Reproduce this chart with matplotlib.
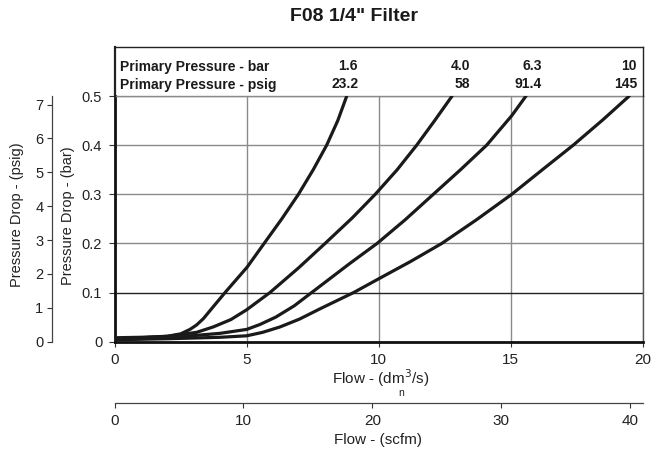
import matplotlib
matplotlib.use("Agg")
import matplotlib.pyplot as plt
from matplotlib.ticker import FuncFormatter

plt.rcParams['font.family'] = ['Liberation Sans', 'DejaVu Sans']

# ---------------- data ----------------
title = 'F08 1/4" Filter'
header_bar_title = "Primary Pressure - bar"
header_psig_title = "Primary Pressure - psig"
pressure_bar = ["1.6", "4.0", "6.3", "10"]
pressure_psig = ["23.2", "58", "91.4", "145"]

flow_16 = [0, 1.0, 2.0, 2.5, 2.85, 3.1, 3.36, 3.73, 4.18, 4.6, 5.02, 5.66, 6.33, 6.96, 7.52,
           8.03, 8.45, 8.79]
drop_16 = [0.008, 0.009, 0.011, 0.016, 0.025, 0.034, 0.047, 0.071, 0.100, 0.126, 0.152, 0.200,
           0.250, 0.300, 0.350, 0.400, 0.450, 0.500]

flow_40 = [0, 1, 2, 3.1, 3.73, 4.4, 5.0, 5.88, 6.96, 7.97, 9.0, 9.87, 10.7, 11.44, 12.12, 12.78]
drop_40 = [0.006, 0.008, 0.011, 0.019, 0.030, 0.045, 0.065, 0.100, 0.150, 0.200,
           0.252, 0.300, 0.350, 0.400, 0.450, 0.500]

flow_63 = [0, 2, 3.99, 5.0, 5.5, 6.1, 6.8, 7.46, 8.9, 9.94, 11.0, 12.07, 13.1, 14.09, 15.04, 15.58]
drop_63 = [0.005, 0.008, 0.017, 0.025, 0.035, 0.050, 0.073, 0.100, 0.159, 0.200,
           0.248, 0.300, 0.350, 0.400, 0.460, 0.500]

flow_10 = [0, 2, 4, 5.0, 5.6, 6.26, 7.0, 7.78, 9.05, 10.0, 11.2, 12.39, 13.7, 15.04,
           16.2, 17.37, 18.5, 19.49]
drop_10 = [0.004, 0.006, 0.009, 0.012, 0.019, 0.030, 0.046, 0.067, 0.100, 0.128, 0.163,
           0.200, 0.248, 0.300, 0.350, 0.400, 0.452, 0.500]

flow_ticks = [0, 5, 10, 15, 20]
bar_ticks = [0, 0.1, 0.2, 0.3, 0.4, 0.5]
psig_ticks = [0, 1, 2, 3, 4, 5, 6, 7]
scfm_ticks = [0, 10, 20, 30, 40]

BAR_TO_PSI = 14.5038

# ---------------- layout ----------------
W, H = 668, 450
def fx(px):
    return px / W
def fy(py):
    return 1 - py / H

L, R, T, B = 114.7, 642.7, 96.0, 341.7
HDR_TOP = 47.0
PT = 72 / 100.0  # points per pixel

fig = plt.figure(figsize=(W / 100, H / 100), dpi=100)

ax = fig.add_axes([fx(L), fy(B), (R - L) / W, (B - T) / H])
ax.set_xlim(0, 20)
ax.set_ylim(0, 0.5)

for fl, dr in [(flow_16, drop_16), (flow_40, drop_40), (flow_63, drop_63), (flow_10, drop_10)]:
    ax.plot(fl, dr, color='#1a1a1a', lw=2.3, solid_joinstyle='round',
            solid_capstyle='round', zorder=3)

ax.set_xticks(flow_ticks)
ax.set_yticks(bar_ticks)
ax.grid(True, color='#8a8a8a', lw=1.0)
for gl, t in zip(ax.yaxis.get_gridlines(), bar_ticks):
    if abs(t - 0.1) < 1e-9:
        gl.set_color('#222222')

ax.xaxis.set_major_formatter(FuncFormatter(lambda v, p: f"{v:g}"))
ax.yaxis.set_major_formatter(FuncFormatter(lambda v, p: "0" if v == 0 else f"{v:.1f}"))

ax.spines['left'].set_linewidth(2.0)
ax.spines['left'].set_color('#111111')
ax.spines['bottom'].set_linewidth(2.0)
ax.spines['bottom'].set_color('#111111')
ax.spines['right'].set_linewidth(1.0)
ax.spines['right'].set_color('#555555')
ax.spines['top'].set_linewidth(1.0)
ax.spines['top'].set_color('#8a8a8a')

ax.tick_params(axis='x', direction='out', length=5 * PT, width=0.8, pad=6 * PT,
               labelsize=11, color='#333333', labelcolor='#222222')
ax.tick_params(axis='y', direction='out', length=6.5 * PT, width=0.8, pad=6 * PT,
               labelsize=10.5, color='#333333', labelcolor='#222222')

# psig axis
axp = ax.twinx()
axp.set_ylim(0, 0.5 * BAR_TO_PSI)
axp.yaxis.set_ticks_position('left')
axp.spines['left'].set_position(('outward', (L - 51.7) * PT))
for s in ['right', 'top', 'bottom']:
    axp.spines[s].set_visible(False)
axp.spines['left'].set_visible(True)
axp.spines['left'].set_linewidth(0.9)
axp.spines['left'].set_color('#444444')
axp.set_yticks(psig_ticks)
axp.tick_params(axis='y', direction='out', length=5 * PT, width=0.8, pad=3.4 * PT,
                labelsize=10.5, color='#333333', labelcolor='#222222')

# scfm axis
axs = ax.twiny()
axs.set_xlim(0, 41.0)
axs.xaxis.set_ticks_position('bottom')
axs.spines['bottom'].set_position(('outward', (402.7 - B) * PT))
for s in ['left', 'right', 'top']:
    axs.spines[s].set_visible(False)
axs.spines['bottom'].set_visible(True)
axs.spines['bottom'].set_linewidth(0.9)
axs.spines['bottom'].set_color('#444444')
axs.set_xticks(scfm_ticks)
axs.tick_params(axis='x', direction='out', length=5 * PT, width=0.8, pad=6 * PT,
                labelsize=11, color='#333333', labelcolor='#222222')

# header box
axh = fig.add_axes([fx(L), fy(T), (R - L) / W, (T - HDR_TOP) / H])
axh.set_xlim(0, 20)
axh.set_ylim(0, 1)
axh.set_xticks([])
axh.set_yticks([])
axh.patch.set_alpha(0)
axh.spines['bottom'].set_visible(False)
for s in ['top', 'left', 'right']:
    axh.spines[s].set_linewidth(1.0)
    axh.spines[s].set_color('#222222')
axh.spines['left'].set_linewidth(1.6)

row1_y = 1 - (70.5 - HDR_TOP) / (T - HDR_TOP)
row2_y = 1 - (88.5 - HDR_TOP) / (T - HDR_TOP)
hdr_right = [9.22, 13.46, 16.19, 19.78]
hfs = 10
axh.text(0.19, row1_y, header_bar_title, ha='left', va='baseline', fontsize=hfs,
         fontweight='bold', color='#1a1a1a')
axh.text(0.19, row2_y, header_psig_title, ha='left', va='baseline', fontsize=hfs,
         fontweight='bold', color='#1a1a1a')
for xr, b, p in zip(hdr_right, pressure_bar, pressure_psig):
    axh.text(xr, row1_y, b, ha='right', va='baseline', fontsize=hfs, fontweight='bold',
             color='#1a1a1a')
    axh.text(xr, row2_y, p, ha='right', va='baseline', fontsize=hfs, fontweight='bold',
             color='#1a1a1a')

# title and labels
fig.text(fx(354.5), fy(20.7), title, ha='center', va='baseline', fontsize=14,
         fontweight='bold', color='#1a1a1a')
fig.text(fx(68), fy(216), "Pressure Drop - (bar)", rotation=90, ha='center', va='center',
         fontsize=10.5, color='#222222')
fig.text(fx(17), fy(215), "Pressure Drop - (psig)", rotation=90, ha='center', va='center',
         fontsize=10.5, color='#222222')
fig.text(fx(381), fy(384.3), "Flow - (dm$^{3}$/s)", ha='center', va='baseline',
         fontsize=11, color='#222222')
fig.text(fx(401), fy(396), "n", ha='center', va='baseline', fontsize=7.5, color='#222222')
fig.text(fx(377.5), fy(444), "Flow - (scfm)", ha='center', va='baseline',
         fontsize=11, color='#222222')

fig.savefig("out.png", dpi=100)
